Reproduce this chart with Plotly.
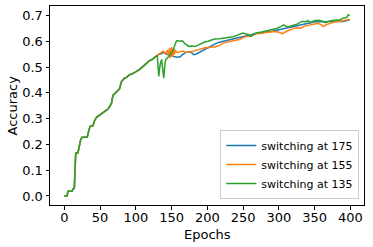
import plotly.graph_objects as go

# Shared part of training (identical for all runs)
shared_epochs = [0, 4, 5, 11, 12, 14, 15, 16, 19, 21, 23, 25, 27, 32, 34, 36, 40, 42, 45, 50,
                 54, 57, 60, 63, 66, 68, 70, 73, 77, 80, 82, 84, 87, 91, 95, 98, 101, 105, 109,
                 112, 116, 119, 122, 125, 128]
shared_acc = [0.0, 0.0, 0.018, 0.018, 0.027, 0.03, 0.10, 0.167, 0.167, 0.19, 0.22, 0.228, 0.228,
              0.228, 0.25, 0.27, 0.272, 0.29, 0.305, 0.315, 0.322, 0.328, 0.335, 0.345, 0.36,
              0.39, 0.395, 0.405, 0.415, 0.444, 0.451, 0.457, 0.46, 0.47, 0.474, 0.479, 0.483,
              0.49, 0.5, 0.508, 0.515, 0.525, 0.528, 0.535, 0.542]

blue_epochs = [131, 135, 139, 143, 147, 150, 153, 158, 162, 166, 171, 175, 178, 181, 184, 188,
               192, 196, 201, 207, 213, 218, 225, 233, 240, 246, 252, 259, 265, 270, 280, 289,
               298, 307, 314, 321, 328, 335, 344, 351, 358, 366, 376, 383, 390, 394, 397, 399]
blue_acc = [0.548, 0.552, 0.556, 0.55, 0.548, 0.545, 0.541, 0.538, 0.54, 0.55, 0.558, 0.56,
            0.556, 0.548, 0.55, 0.556, 0.562, 0.568, 0.576, 0.586, 0.593, 0.597, 0.601, 0.607,
            0.612, 0.616, 0.619, 0.624, 0.629, 0.632, 0.635, 0.638, 0.643, 0.648, 0.652, 0.657,
            0.662, 0.666, 0.672, 0.676, 0.677, 0.676, 0.678, 0.678, 0.677, 0.68, 0.683, 0.684]

orange_epochs = [131, 135, 139, 142, 144, 146, 147, 148, 150, 151, 153, 154, 155, 158, 162, 166,
                 170, 174, 180, 185, 190, 194, 198, 201, 206, 211, 217, 222, 231, 238, 245, 254,
                 259, 268, 273, 280, 287, 293, 299, 305, 310, 316, 323, 327, 330, 337, 342, 346,
                 351, 355, 359, 362, 366, 371, 375, 381, 386, 390, 394, 397, 399]
orange_acc = [0.548, 0.556, 0.562, 0.55, 0.566, 0.545, 0.575, 0.535, 0.578, 0.54, 0.575, 0.548,
              0.565, 0.556, 0.56, 0.562, 0.558, 0.558, 0.562, 0.566, 0.57, 0.574, 0.576, 0.575,
              0.578, 0.578, 0.584, 0.593, 0.597, 0.603, 0.607, 0.619, 0.62, 0.629, 0.63, 0.632,
              0.635, 0.638, 0.636, 0.63, 0.638, 0.645, 0.652, 0.653, 0.651, 0.66, 0.663, 0.667,
              0.668, 0.67, 0.664, 0.657, 0.664, 0.67, 0.673, 0.677, 0.678, 0.68, 0.683, 0.685, 0.686]

green_epochs = [130, 132, 134, 136, 139, 141, 142, 146, 150, 153, 155, 157, 161, 165, 169, 174,
                178, 183, 187, 192, 197, 201, 206, 210, 217, 224, 230, 236, 240, 247, 250, 254,
                258, 261, 264, 268, 276, 284, 291, 298, 303, 307, 309, 312, 317, 325, 332, 337,
                341, 344, 349, 356, 362, 365, 368, 373, 381, 385, 390, 395, 397, 399]
green_acc = [0.545, 0.464, 0.51, 0.53, 0.457, 0.52, 0.53, 0.541, 0.555, 0.574, 0.59, 0.603, 0.6,
             0.602, 0.59, 0.58, 0.582, 0.58, 0.585, 0.592, 0.598, 0.6, 0.605, 0.609, 0.61, 0.612,
             0.614, 0.618, 0.622, 0.627, 0.632, 0.628, 0.626, 0.619, 0.625, 0.632, 0.636, 0.641,
             0.646, 0.651, 0.658, 0.664, 0.66, 0.655, 0.66, 0.666, 0.677, 0.676, 0.68, 0.672,
             0.68, 0.682, 0.677, 0.672, 0.676, 0.68, 0.683, 0.683, 0.69, 0.693, 0.703, 0.7]

x_ticks = [0, 50, 100, 150, 200, 250, 300, 350, 400]
y_ticks = [0.0, 0.1, 0.2, 0.3, 0.4, 0.5, 0.6, 0.7]

series = [
    ("switching at 175", blue_epochs, blue_acc, "#1f77b4"),
    ("switching at 155", orange_epochs, orange_acc, "#ff7f0e"),
    ("switching at 135", green_epochs, green_acc, "#2ca02c"),
]

fig = go.Figure()
for name, ex, ac, col in series:
    fig.add_trace(go.Scatter(
        x=shared_epochs + ex, y=shared_acc + ac, mode="lines", name=name,
        line=dict(color=col, width=1.5)))

axis_common = dict(showline=True, linecolor="black", linewidth=1, mirror=True,
                   ticks="outside", ticklen=3.5, tickwidth=0.8, tickcolor="black",
                   showgrid=False, zeroline=False, automargin=False,
                   tickfont=dict(family="DejaVu Sans", size=13, color="black"))

L, R, T, B = 50, 9, 6, 42
W, H = 373, 247
pw, ph = W - L - R, H - T - B

fig.update_layout(
    width=W, height=H,
    margin=dict(l=L, r=R, t=T, b=B),
    paper_bgcolor="white", plot_bgcolor="white",
    font=dict(family="DejaVu Sans", size=13, color="black"),
    xaxis=dict(range=[-20, 419], tickvals=x_ticks, ticklabelstandoff=-3, **axis_common),
    yaxis=dict(range=[-0.035, 0.737], tickvals=y_ticks, tickformat=".1f", **axis_common),
    legend=dict(x=0.985, y=0.03, xanchor="right", yanchor="bottom",
                bordercolor="#cccccc", borderwidth=1, bgcolor="rgba(255,255,255,0.8)",
                font=dict(family="DejaVu Sans", size=11), tracegroupgap=0,
                itemwidth=30),
    showlegend=True,
    annotations=[
        dict(text="Epochs", xref="paper", yref="paper", x=(207.5 - L) / pw,
             y=-(234 - (H - B)) / ph, showarrow=False, xanchor="center", yanchor="middle",
             font=dict(size=13)),
        dict(text="Accuracy", xref="paper", yref="paper", x=-(L - 12) / pw,
             y=0.5, showarrow=False, xanchor="center", yanchor="middle", textangle=-90,
             font=dict(size=13)),
    ],
)

fig.write_html("out.html", post_script="document.body.style.margin='0';",
               config={"displayModeBar": False})
